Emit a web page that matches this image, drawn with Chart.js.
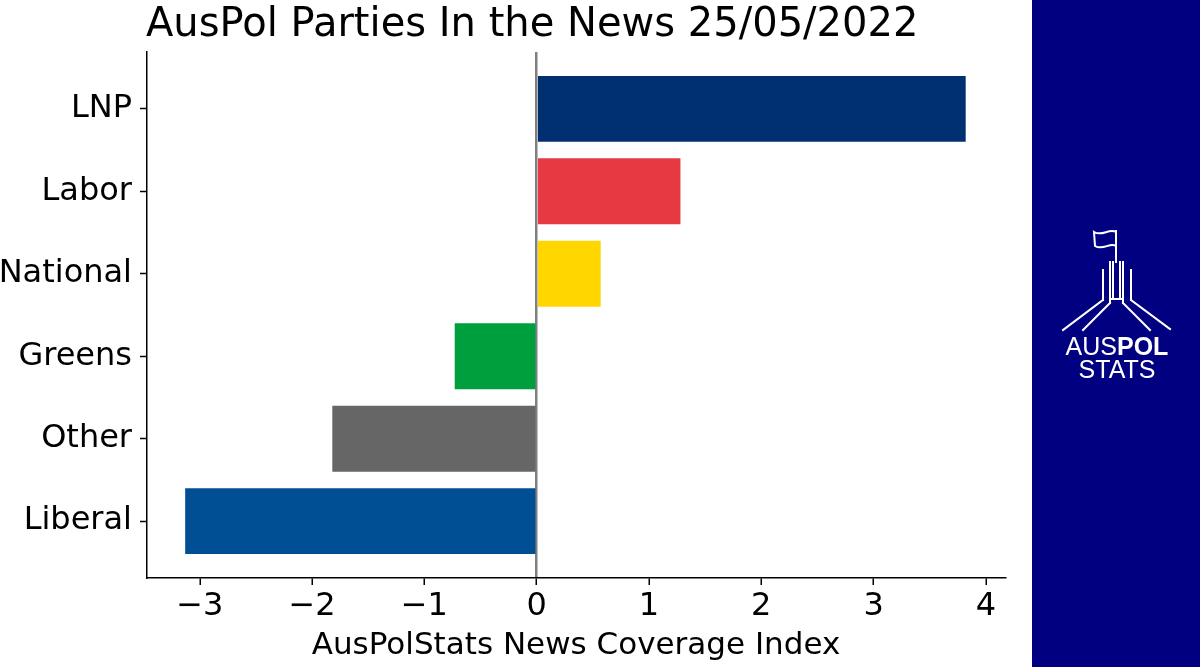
<!DOCTYPE html>
<html>
<head>
<meta charset="utf-8">
<script src="https://cdn.jsdelivr.net/npm/chart.js@4"></script>
<style>
  html, body { margin: 0; padding: 0; background: #fff; }
  #wrap { position: relative; width: 1200px; height: 667px; }
  #logo { position: absolute; left: 0; top: 0; }
</style>
</head>
<body>
<div id="wrap">
  <canvas id="newsChart" width="1200" height="667"></canvas>
  <svg id="logo" width="1200" height="667">
    <g stroke="#fff" stroke-width="2" fill="none" stroke-linecap="square">
      <path d="M1116,232 C1109,228 1102,237 1094,232 L1095,246 C1103,251 1110,242 1116,246 Z"/>
      <line x1="1116" y1="231" x2="1116" y2="262"/>
      <line x1="1110" y1="262" x2="1110" y2="303"/>
      <line x1="1113" y1="262" x2="1113" y2="299"/>
      <line x1="1120" y1="262" x2="1120" y2="299"/>
      <line x1="1123" y1="262" x2="1123" y2="303"/>
      <line x1="1110" y1="299" x2="1123" y2="299"/>
      <line x1="1103" y1="270" x2="1103" y2="300"/>
      <line x1="1131" y1="270" x2="1131" y2="300"/>
      <line x1="1103" y1="300" x2="1063" y2="330"/>
      <line x1="1110" y1="303" x2="1083" y2="330"/>
      <line x1="1131" y1="300" x2="1170" y2="329"/>
      <line x1="1123" y1="303" x2="1150" y2="330"/>
    </g>
    <text x="1117" y="355" text-anchor="middle" fill="#fff" font-family="Liberation Sans, Arial, sans-serif" font-size="25"><tspan>AUS</tspan><tspan font-weight="bold">POL</tspan></text>
    <text x="1117" y="378" text-anchor="middle" fill="#fff" font-family="Liberation Sans, Arial, sans-serif" font-size="25">STATS</text>
  </svg>
</div>
<script>
// Data
const parties = ["LNP", "Labor", "National", "Greens", "Other", "Liberal"];
const coverage = [3.82, 1.28, 0.57, -0.73, -1.82, -3.13];
const barColours = ["#00306f", "#e53a42", "#ffd600", "#009f3d", "#666666", "#004f95"];
const xTicks = [-3, -2, -1, 0, 1, 2, 3, 4];

const FONT = "'DejaVu Sans', sans-serif";

// background panel + title
const decor = {
    id: 'decor',
    beforeDraw(chart) {
        const c = chart.ctx;
        c.save();
        c.fillStyle = '#000080';
        c.fillRect(1032, 0, 168, 667);
        c.fillStyle = '#000';
        c.font = "40px " + FONT;
        c.textBaseline = 'middle';
        c.textAlign = 'left';
        c.fillText("AusPol Parties In the News 25/05/2022", 146, 26);
        c.restore();
    }
};

const ctx = document.getElementById('newsChart').getContext('2d');
new Chart(ctx, {
    type: 'bar',
    data: {
        datasets: [{
            data: coverage.map((v, i) => ({ x: v, y: i })),
            backgroundColor: barColours,
            borderWidth: 0,
            barPercentage: 0.8,
            categoryPercentage: 1.0
        }]
    },
    options: {
        indexAxis: 'y',
        responsive: false,
        animation: false,
        layout: { padding: { top: 52, right: 195, left: 0, bottom: 0 } },
        plugins: {
            legend: { display: false },
            tooltip: { enabled: false }
        },
        scales: {
            x: {
                type: 'linear',
                min: -3.47,
                max: 4.17,
                afterBuildTicks: s => { s.ticks = xTicks.map(v => ({ value: v })); },
                afterFit: s => { s.height = 89; },
                ticks: {
                    color: '#000',
                    font: { family: FONT, size: 32 },
                    padding: 2,
                    callback: v => (v < 0 ? '\u2212' + Math.abs(v) : '' + v)
                },
                grid: {
                    color: c => (c.tick && c.tick.value === 0 ? '#808080' : 'rgba(0,0,0,0)'),
                    lineWidth: 2.5,
                    tickColor: '#000',
                    tickWidth: 1.5,
                    tickLength: 7
                },
                border: { display: true, color: '#000', width: 1.5 },
                title: {
                    display: true,
                    text: 'AusPolStats News Coverage Index',
                    color: '#000',
                    font: { family: FONT, size: 31 },
                    padding: { top: 0, bottom: 2 }
                }
            },
            y: {
                type: 'linear',
                reverse: true,
                offset: false,
                min: -0.69,
                max: 5.69,
                afterBuildTicks: s => { s.ticks = parties.map((p, i) => ({ value: i })); },
                afterFit: s => { s.width = 147; },
                ticks: {
                    color: '#000',
                    font: { family: FONT, size: 32 },
                    padding: 8,
                    callback: v => parties[v]
                },
                grid: {
                    offset: false,
                    drawOnChartArea: false,
                    color: '#000',
                    tickWidth: 1.5,
                    tickLength: 7
                },
                border: { display: true, color: '#000', width: 1.5 }
            }
        }
    },
    plugins: [decor]
});
</script>
</body>
</html>
